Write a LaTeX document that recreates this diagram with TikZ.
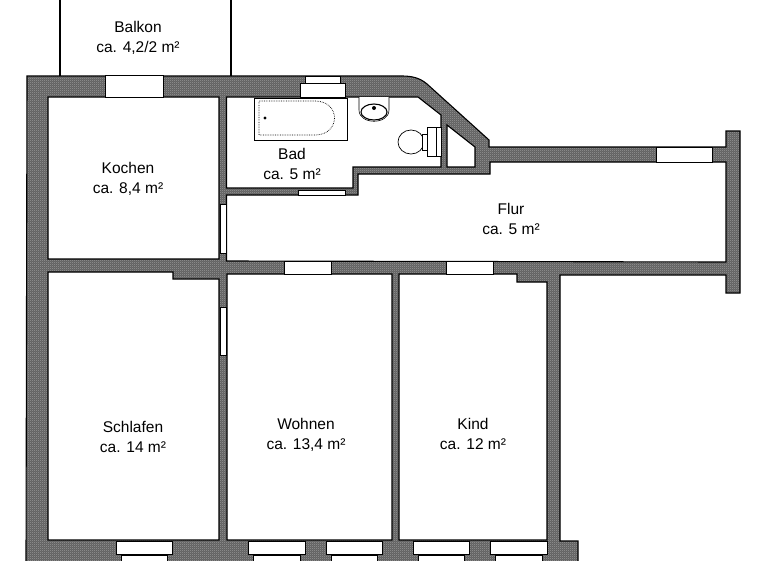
\documentclass[tikz,border=0pt]{standalone}
\usepackage{fontspec}
\setmainfont{Liberation Sans}
\usetikzlibrary{patterns}
\pgfdeclarepatternformonly{walldither}{\pgfqpoint{0pt}{0pt}}{\pgfqpoint{2.2pt}{2.2pt}}{\pgfqpoint{2.2pt}{2.2pt}}
{
  \pgfpathrectangle{\pgfqpoint{0pt}{0pt}}{\pgfqpoint{0.9pt}{0.9pt}}
  \pgfpathrectangle{\pgfqpoint{1.1pt}{1.1pt}}{\pgfqpoint{0.9pt}{0.9pt}}
  \pgfusepath{fill}
}
\tikzstyle{wall} = [draw=black, line width=1.1pt, even odd rule, preaction={fill=black!62, even odd rule}, pattern=walldither, pattern color=white!70!black]
\tikzstyle{window} = [draw=black, line width=0.7pt, fill=white]
\tikzstyle{fixture} = [draw=black, line width=0.7pt, fill=white]
\tikzstyle{room} = [align=center, font=\fontsize{15.5}{20}\selectfont, inner sep=0pt]

\begin{document}
\begin{tikzpicture}[x=1pt, y=-1pt]
\clip (0,0) rectangle (768,560);
% balcony
\draw [line width=1.2pt] (60,-2) -- (60,76);
\draw [line width=1.2pt] (231,-2) -- (231,76);
% walls with rooms cut out
\path [wall] (27,76) -- (402,76) .. controls (412,76) and (420,78) .. (427,84) -- (489,140) -- (489,147)
  -- (726,147) -- (726,131) -- (740,131) -- (740,293) -- (726,293) -- (726,275) -- (560,275) -- (560,541)
  -- (578,541) -- (578,564) -- (26,564) -- cycle
  (48,97) -- (219,97) -- (219,259) -- (48,259) -- cycle
  (226.5,97) -- (418,97) -- (441,115) -- (441,167) -- (353,167) -- (353,188) -- (226.5,188) -- cycle
  (447,125) -- (475,147) -- (475,167) -- (447,167) -- cycle
  (226.5,195) -- (358,195) -- (358,174) -- (490,174) -- (490,162) -- (726,162) -- (726,262) -- (226.5,261) -- cycle
  (48,272) -- (173,272) -- (173,279) -- (219,279) -- (219,540) -- (48,540) -- cycle
  (227,274) -- (392,274) -- (392,540) -- (227,540) -- cycle
  (399,274) -- (517,274) -- (517,282) -- (547,282) -- (547,540) -- (399,540) -- cycle;
% windows and doors
\draw [window] (105,75) rectangle (163,97);
\draw [window] (300,83) rectangle (345,97);
\draw [window] (305,76) rectangle (340,83);
\draw [window] (656,147) rectangle (712,162);
\draw [window] (284,261) rectangle (331,274);
\draw [window] (446,261) rectangle (493,274);
\draw [window] (298,190) rectangle (345,195);
\draw [window] (220,204) rectangle (226,253);
\draw [window] (220,307) rectangle (226,355);
\foreach \xa/\xb in {116/172,248/305,326/382,413/469,490/547}
{
  \draw [window] (\xa,541) rectangle (\xb,554);
  \draw [window] (\xa+5,555) rectangle (\xb-5,564);
}
% bath
\draw [fixture] (254,98) rectangle (347,140);
\draw [line width=0.7pt, densely dotted] (259,101) -- (315,101) .. controls (341,101) and (341,135) .. (315,135) -- (259,135) -- cycle;
\fill (265,118) circle (1.6);
% sink
\draw [fixture, line width=0.6pt] (359,97) -- (359,110) .. controls (359,125) and (389,125) .. (389,110) -- (389,97);
\draw [line width=1.1pt] (374,112) ellipse (13 and 8);
\fill (374,108) circle (2);
% toilet
\draw [fixture] (411,142) ellipse (13 and 12);
\draw [fixture] (422,134) rectangle (427,150);
\draw [fixture] (427,127) rectangle (441,156);
\draw [line width=0.6pt] (436,127) -- (436,156);
% labels
\node (balkon) [room] at (138,38) {Balkon\\ca. 4,2/2 m²};
\node (kochen) [room] at (128,179) {Kochen\\ca. 8,4 m²};
\node (bad) [room] at (292,164) {Bad\\ca. 5 m²};
\node (flur) [room] at (511,219) {Flur\\ca. 5 m²};
\node (schlafen) [room] at (133,437) {Schlafen\\ca. 14 m²};
\node (wohnen) [room] at (306,435) {Wohnen\\ca. 13,4 m²};
\node (kind) [room] at (473,434) {Kind\\ca. 12 m²};
\end{tikzpicture}
\end{document}
